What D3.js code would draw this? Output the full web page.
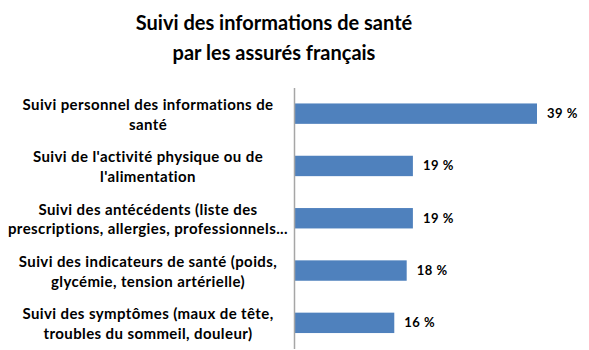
<!DOCTYPE html>
<html><head><meta charset="utf-8">
<script src="https://cdn.jsdelivr.net/npm/d3@7"></script>
<style>body{margin:0;background:#fff}svg{display:block}</style>
</head><body>
<script>
const titleLines = ["Suivi des informations de santé", "par les assurés français"];
const categories = [
  ["Suivi personnel des informations de", "santé"],
  ["Suivi de l'activité physique ou de", "l'alimentation"],
  ["Suivi des antécédents (liste des", "prescriptions, allergies, professionnels..."],
  ["Suivi des indicateurs de santé (poids,", "glycémie, tension artérielle)"],
  ["Suivi des symptômes (maux de tête,", "troubles du sommeil, douleur)"]
];
const values = [39, 19, 19, 18, 16];

const W = 589, H = 350;
const svg = d3.select("body").append("svg").attr("width", W).attr("height", H);
const font = "Lato, 'Open Sans', sans-serif";

const x = d3.scaleLinear().domain([0, 39]).range([295, 537]);
const y = d3.scaleBand().domain(d3.range(categories.length)).range([87.5, 349]).paddingInner(0.61).paddingOuter(0.305);

svg.append("g").selectAll("text").data(titleLines).join("text")
  .attr("x", 274).attr("y", (d, i) => 30 + i * 30)
  .attr("text-anchor", "middle").attr("font-family", font).attr("font-weight", "bold")
  .attr("font-size", 20).attr("fill", "#000").text(d => d);

svg.append("g").selectAll("rect").data(values).join("rect")
  .attr("x", x(0)).attr("y", (d, i) => y(i)).attr("width", d => x(d) - x(0))
  .attr("height", y.bandwidth()).attr("fill", "#4f81bd");

svg.append("line").attr("x1", 294.5).attr("x2", 294.5).attr("y1", 88).attr("y2", 349)
  .attr("stroke", "#a6a6a6").attr("stroke-width", 1.5);

svg.append("g").selectAll("text").data(values).join("text")
  .attr("x", d => x(d) + 10).attr("y", (d, i) => y(i) + y.bandwidth() / 2 + 4.5)
  .attr("font-family", font).attr("font-weight", "bold").attr("font-size", 13)
  .attr("letter-spacing", 0.5).attr("fill", "#000").text(d => d + " %");

const lab = svg.append("g").selectAll("text").data(categories).join("text")
  .attr("text-anchor", "middle").attr("font-family", font).attr("font-weight", "bold")
  .attr("font-size", 15).attr("letter-spacing", 0.4).attr("fill", "#000");
lab.selectAll("tspan").data((d, i) => d.map(t => ({t, i}))).join("tspan")
  .attr("x", 148).attr("y", (d, j) => y(d.i) + y.bandwidth() / 2 - 3.5 + j * 19.5)
  .text(d => d.t);
</script>
</body></html>
